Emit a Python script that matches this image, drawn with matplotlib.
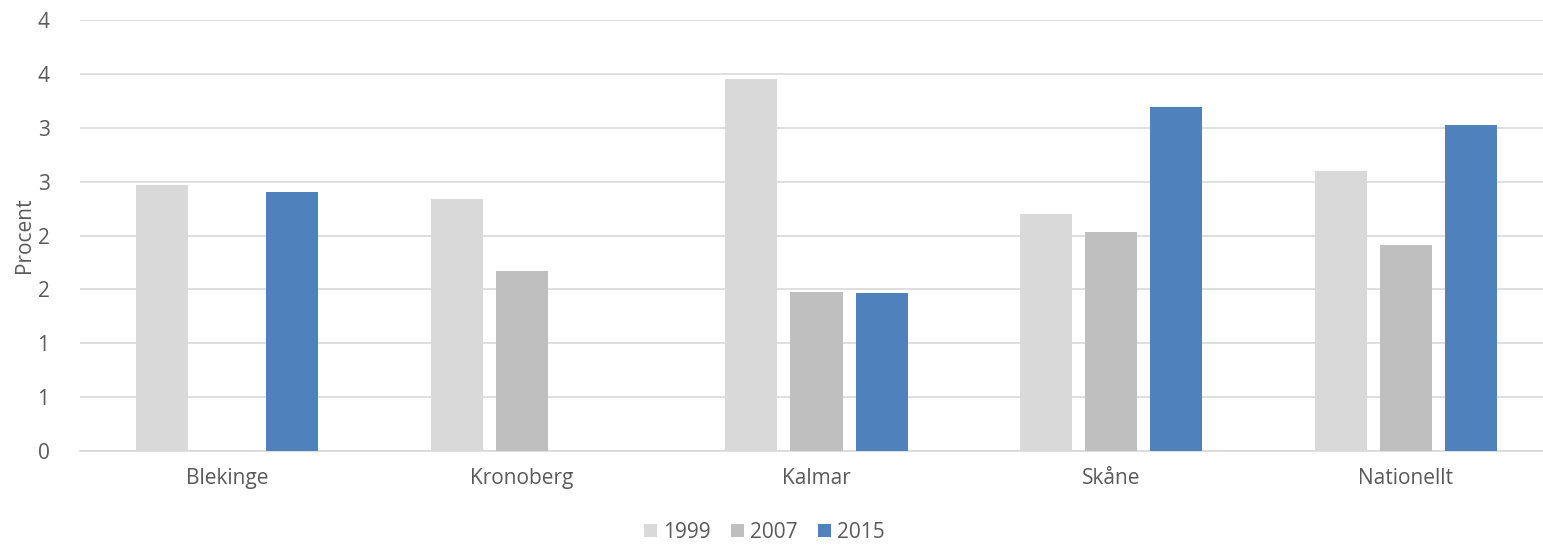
import numpy as np
import matplotlib.pyplot as plt
from matplotlib.ticker import FixedLocator, FixedFormatter

plt.rcParams['font.family'] = ['Open Sans', 'DejaVu Sans']

regions = ['Blekinge', 'Kronoberg', 'Kalmar', 'Skåne', 'Nationellt']
years = ['1999', '2007', '2015']
v1999 = [2.47, 2.34, 3.45, 2.20, 2.60]
v2007 = [np.nan, 1.67, 1.48, 2.03, 1.91]
v2015 = [2.40, np.nan, 1.47, 3.19, 3.03]
colors = ['#d9d9d9', '#bfbfbf', '#4f81bd']

ytick_vals = [0, 0.5, 1, 1.5, 2, 2.5, 3, 3.5, 4]
ytick_labels = ['0', '1', '1', '2', '2', '3', '3', '4', '4']

fig = plt.figure(figsize=(15.43, 5.49), dpi=100)
# plot area runs a little past the right edge, as in the original export
ax = fig.add_axes([80 / 1543, 98 / 549, 1473 / 1543, 431 / 549])

x = np.arange(len(regions))
width = 0.177
step = 0.221
for i, (vals, lab) in enumerate(zip([v1999, v2007, v2015], years)):
    ax.bar(x + (i - 1) * step, vals, width, color=colors[i], label=lab, zorder=3)

ax.set_xlim(-0.5, len(regions) - 0.5)
ax.set_ylim(0, 4)
ax.yaxis.set_major_locator(FixedLocator(ytick_vals))
ax.yaxis.set_major_formatter(FixedFormatter(ytick_labels))
ax.set_xticks(x)
ax.set_xticklabels(regions)
ax.grid(axis='y', color='#d9d9d9', linewidth=1.2, zorder=0)
for s in ['top', 'right', 'left']:
    ax.spines[s].set_visible(False)
ax.spines['bottom'].set_color('#d9d9d9')
ax.spines['bottom'].set_linewidth(1.2)
ax.tick_params(axis='both', length=0, labelsize=15, colors='#595959')
ax.tick_params(axis='x', pad=12)
ax.tick_params(axis='y', pad=22)
ax.set_ylabel('Procent', fontsize=15, color='#595959', labelpad=2)

ax.legend(loc='upper center', bbox_to_anchor=(0.5 - 52 / 1473, -0.13), ncol=3, frameon=False,
          fontsize=15, labelcolor='#595959', handlelength=0.6, handleheight=0.6,
          handletextpad=0.3, columnspacing=1.0, borderpad=0.2)

fig.savefig('out.png', dpi=100)
